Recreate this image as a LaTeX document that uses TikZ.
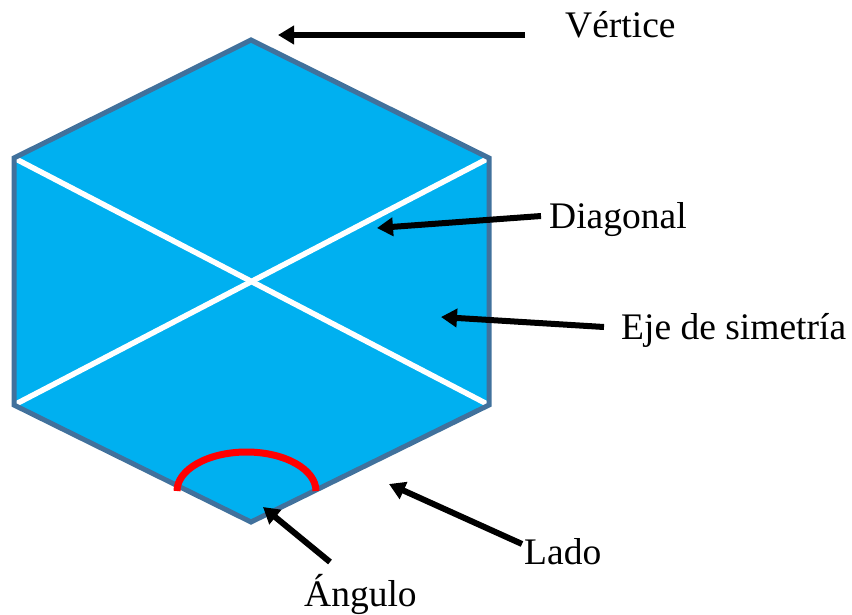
\documentclass[tikz,border=0pt]{standalone}
\usepackage{fontspec}
\setmainfont{Liberation Serif}
\usetikzlibrary{arrows.meta}
\definecolor{hexfill}{HTML}{00B0F0}
\definecolor{hexedge}{HTML}{41719C}
\begin{document}
\begin{tikzpicture}[x=1pt,y=-1pt,
  lbl/.style={font=\fontsize{37.5}{42}\selectfont, inner sep=0pt, anchor=base west},
  pointer/.style={line width=6pt, -{Triangle[length=16pt,width=18pt]}}]
\useasboundingbox (0,0) rectangle (852,614);
% hexagon
\coordinate (T) at (251,40);
\coordinate (UR) at (489,158);
\coordinate (LR) at (489,405);
\coordinate (B) at (251,522);
\coordinate (LL) at (14,405);
\coordinate (UL) at (14,158);
\fill[hexfill] (T) -- (UR) -- (LR) -- (B) -- (LL) -- (UL) -- cycle;
\draw[white, line width=5.5pt] (UL) -- (LR);
\draw[white, line width=5.5pt] (LL) -- (UR);
\draw[hexedge, line width=5pt, line join=miter] (T) -- (UR) -- (LR) -- (B) -- (LL) -- (UL) -- cycle;
% angle arc
\draw[red, line width=7pt] (177,491) arc[start angle=180, end angle=0, x radius=69.5, y radius=-39];
% labels
\node[lbl] (vert) at (565,37) {Vértice};
\node[lbl] (diag) at (549,228) {Diagonal};
\node[lbl] (eje) at (621,339) {Eje de simetría};
\node[lbl] (lado) at (524,564) {Lado};
\node[lbl] (ang) at (304,606) {Ángulo};
% arrow endpoints
\coordinate (vs) at (525,35);  \coordinate (vt) at (278,35);
\coordinate (ds) at (541,216); \coordinate (dt) at (377,228);
\coordinate (es) at (604,327); \coordinate (et) at (441,317);
\coordinate (ls) at (522,544); \coordinate (lt) at (389,484);
\coordinate (as) at (330,562); \coordinate (at) at (263,507);
\draw[pointer] (vs) -- (vt);
\draw[pointer] (ds) -- (dt);
\draw[pointer] (es) -- (et);
\draw[pointer] (ls) -- (lt);
\draw[pointer] (as) -- (at);
\end{tikzpicture}
\end{document}
